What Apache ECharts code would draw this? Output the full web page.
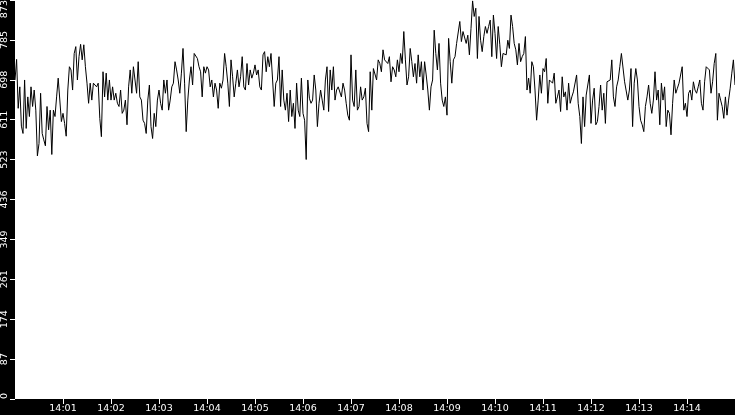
<!DOCTYPE html>
<html>
<head>
<meta charset="utf-8">
<script src="https://cdn.jsdelivr.net/npm/echarts@6.0.0/dist/echarts.min.js"></script>
<style>
html,body{margin:0;padding:0;background:#000;}
#chart{width:735px;height:415px;}
</style>
</head>
<body>
<div id="chart"></div>
<script>
// ---- data ----
const startTime = Date.UTC(2024, 0, 1, 14, 0, 0);
const stepSeconds = 2;
const values = [
  698,743,636,683,597,581,698,592,661,618,
  683,640,676,632,532,559,669,581,567,554,
  640,589,632,535,632,618,661,702,698,607,
  625,603,575,676,727,720,676,756,771,698,
  749,776,742,775,727,691,647,691,654,691,
  687,683,691,614,574,716,661,713,654,698,
  654,683,654,669,647,640,676,625,632,654,
  600,683,720,669,727,731,669,738,661,654,
  610,603,581,654,687,596,570,625,596,654,
  676,647,632,698,669,698,632,654,683,691,
  738,720,698,669,713,767,691,585,654,698,
  727,687,756,753,745,727,716,661,727,713,
  727,720,683,698,661,691,676,636,691,680,
  698,756,727,691,640,742,705,661,691,720,
  683,705,749,683,676,734,
  687,720,702,713,731,709,720,683,676,753,
  760,716,749,727,756,698,640,691,698,749,
  640,720,654,632,669,607,676,618,647,592,
  691,632,618,702,625,610,524,698,658,647,
  654,709,676,596,647,676,654,632,698,727,
  629,720,676,
  727,654,676,683,680,661,691,676,647,621,
  610,753,654,640,720,632,640,683,654,661,
  680,603,585,716,632,723,727,698,742,734,
  716,764,742,745,734,749,694,727,720,705,
  742,716,756,734,804,742,687,705,767,738,
  705,734,691,753,705,738,676,738,709,676,
  632,683,698,807,756,720,778,691,654,640,
  661,621,789,738,691,742,749,778,778,826,
  782,804,800,778,796,753,811,871,837,855,
  745,837,785,760,793,815,800,815,829,749,
  840,
  800,745,815,775,727,756,753,753,785,767,
  840,815,778,764,731,778,738,749,756,793,
  676,702,669,738,727,676,610,654,709,669,
  723,716,745,647,698,694,691,713,647,661,
  676,629,705,661,672,632,691,647,661,672,
  676,709,647,618,559,661,596,665,669,709,
  603,654,680,600,607,640,687,632,669,603,
  694,698,698,742,661,640,683,698,727,756,
  756,694,691,654,676,723,596,691,723,698,
  640,610,600,585,640,661,687,647,625,
  654,716,654,676,600,691,654,683,596,632,
  625,578,647,698,669,680,691,691,727,632,
  647,618,669,676,654,694,676,669,683,698,
  647,632,694,727,727,720,669,694,734,756,
  610,669,654,640,614,661,621,654,680,713,
  742,687
];
const timeTickLabels = ['14:01','14:02','14:03','14:04','14:05','14:06','14:07',
                        '14:08','14:09','14:10','14:11','14:12','14:13','14:14'];
const yMin = 0;
const yMax = 873;
const yStep = 87.3;

// ---- build ----
const seriesData = values.map((v, i) => [startTime + i * stepSeconds * 1000, v]);
const endTime = startTime + (values.length - 1) * stepSeconds * 1000;
const tickTimes = timeTickLabels.map(s => {
  const [h, m] = s.split(':').map(Number);
  return Date.UTC(2024, 0, 1, h, m, 0);
});
const pad = n => (n < 10 ? '0' : '') + n;
const fmtTime = t => { const d = new Date(t); return pad(d.getUTCHours()) + ':' + pad(d.getUTCMinutes()); };

const font = 'DejaVu Sans';
const chart = echarts.init(document.getElementById('chart'), null, {renderer: 'canvas'});
chart.setOption({
  animation: false,
  backgroundColor: '#000',
  grid: {left: 15, right: 0, top: 0, bottom: 16, show: true, backgroundColor: '#fff', borderWidth: 0,
         containLabel: false, outerBoundsMode: 'none'},
  xAxis: {
    type: 'value',
    min: startTime,
    max: endTime,
    interval: 60000,
    scale: true,
    axisLine: {show: false},
    splitLine: {show: false},
    axisTick: {show: true, length: 5, customValues: tickTimes, lineStyle: {color: '#fff', width: 1}},
    axisLabel: {
      customValues: tickTimes,
      formatter: v => fmtTime(v),
      color: '#fff', fontFamily: font, fontSize: 9.5, margin: 5
    }
  },
  yAxis: {
    type: 'value',
    min: yMin,
    max: yMax,
    interval: yStep,
    axisLine: {show: false},
    splitLine: {show: false},
    axisTick: {show: true, length: 5, lineStyle: {color: '#fff', width: 1}},
    axisLabel: {
      rotate: 90,
      formatter: v => String(Math.floor(v + 1e-6)),
      color: '#fff', fontFamily: font, fontSize: 9.5, margin: 5,
      alignMinLabel: 'left', alignMaxLabel: 'right'
    }
  },
  series: [{
    type: 'line',
    data: seriesData,
    showSymbol: false,
    symbol: 'none',
    sampling: 'none',
    lineStyle: {color: '#000', width: 1},
    silent: true
  }]
});
</script>
</body>
</html>
